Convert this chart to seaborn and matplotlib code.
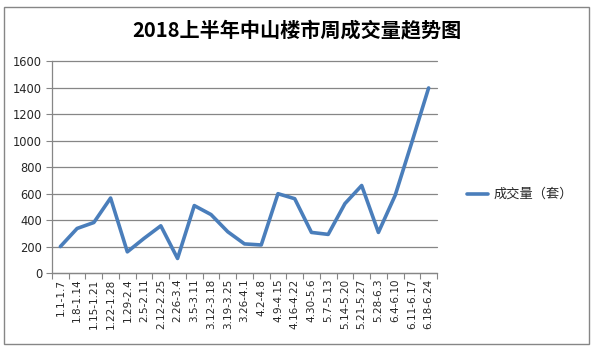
import matplotlib
matplotlib.use("Agg")
import matplotlib.pyplot as plt
import seaborn as sns
import pandas as pd
from matplotlib.patches import Rectangle
from matplotlib.lines import Line2D

weeks = ["1.1-1.7", "1.8-1.14", "1.15-1.21", "1.22-1.28", "1.29-2.4", "2.5-2.11",
         "2.12-2.25", "2.26-3.4", "3.5-3.11", "3.12-3.18", "3.19-3.25", "3.26-4.1",
         "4.2-4.8", "4.9-4.15", "4.16-4.22", "4.30-5.6", "5.7-5.13", "5.14-5.20",
         "5.21-5.27", "5.28-6.3", "6.4-6.10", "6.11-6.17", "6.18-6.24"]
volume = [200, 337, 382, 567, 160, 262, 357, 110, 510, 442, 312, 220,
          212, 600, 562, 307, 292, 525, 662, 307, 587, 990, 1400]
series_name = "成交量（套）"
title = "2018上半年中山楼市周成交量趋势图"

sns.set_theme(style="white")
plt.rcParams['font.family'] = ['Noto Sans CJK SC', 'DejaVu Sans']

df = pd.DataFrame({"week": weeks, "volume": volume})
df["x"] = range(len(weeks))

fig = plt.figure(figsize=(6.02, 3.49), dpi=100)
W, H = 602, 349
ax = fig.add_axes([52 / W, (H - 273) / H, (437 - 52) / W, (273 - 61.5) / H])

sns.lineplot(data=df, x="x", y="volume", ax=ax, color="#4a7ebb", linewidth=2.6,
             legend=False)

ax.set_xlim(-0.5, len(weeks) - 0.5)
ax.set_ylim(0, 1600)
ax.set_yticks(range(0, 1601, 200))
ax.set_yticklabels([str(v) for v in range(0, 1601, 200)], fontsize=8.3,
                   family=['DejaVu Sans'])
ax.set_xticks(range(len(weeks)))
ax.set_xticklabels(weeks, rotation=90, fontsize=7.5, family=['DejaVu Sans'])
ax.set_xticks([i - 0.5 for i in range(len(weeks) + 1)], minor=True)
ax.tick_params(axis='x', which='major', length=0, pad=4)
ax.tick_params(axis='x', which='minor', length=4, width=0.8, color="#868686",
               direction='out', bottom=True)
ax.tick_params(axis='y', length=4, width=0.8, color="#868686", direction='out',
               left=True, pad=3)
ax.set_xlabel("")
ax.set_ylabel("")
ax.grid(axis='y', color="#868686", linewidth=0.9)
for gl in ax.get_ygridlines():
    gl.set_clip_on(False)
ax.set_axisbelow(True)
for s in ["top", "right"]:
    ax.spines[s].set_visible(False)
for s in ["left", "bottom"]:
    ax.spines[s].set_color("#868686")
    ax.spines[s].set_linewidth(0.9)

fig.text(297 / W, 1 - 30 / H, title, ha="center", va="center",
         fontsize=14.5, fontweight="bold", color="black")

# legend
fig.add_artist(Line2D([467 / W, 488 / W], [1 - 194 / H, 1 - 194 / H],
                      color="#4a7ebb", linewidth=2.6))
fig.text(494 / W, 1 - 194 / H, series_name, ha="left", va="center", fontsize=9.5)

# chart border
fig.add_artist(Rectangle((4 / W, 1 - 344 / H), (589 - 4) / W, (344 - 7) / H,
                         fill=False, edgecolor="#868686", linewidth=1.0,
                         transform=fig.transFigure))

fig.savefig("out.png", dpi=100)
